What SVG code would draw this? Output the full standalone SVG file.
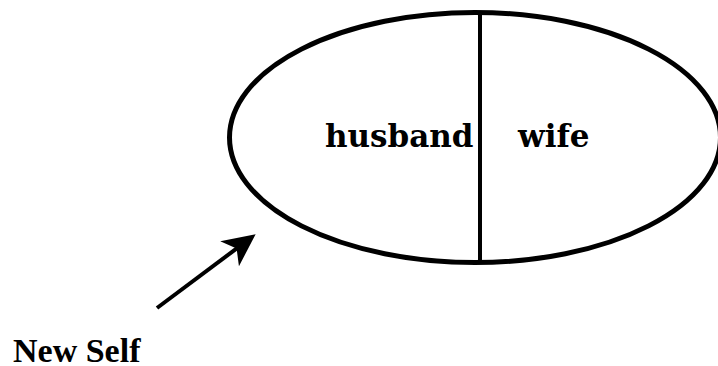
<svg xmlns="http://www.w3.org/2000/svg" width="718" height="366" viewBox="0 0 718 366">
  <style>
    .outline { fill: none; stroke: #000; stroke-width: 5; }
    .divider { stroke: #000; stroke-width: 4; }
    .part { font-family: "DejaVu Serif", "Liberation Serif", serif; font-weight: bold; font-size: 31px; fill: #000; }
    .caption { font-family: "Liberation Serif", "Times New Roman", serif; font-weight: bold; font-size: 34px; fill: #000; }
    .pointer { stroke: #000; stroke-width: 4; fill: none; }
  </style>
  <defs>
    <marker id="head" markerUnits="userSpaceOnUse" markerWidth="40" markerHeight="40" viewBox="-28 -16 32 32" refX="-17.8" refY="0" orient="auto">
      <path d="M0,0 L-26,-12.5 L-19,0 L-26,12.5 Z" fill="#000"/>
    </marker>
  </defs>
  <rect width="718" height="366" fill="#fff"/>

  <!-- the self: one oval split in two halves -->
  <g id="self">
    <ellipse class="outline" cx="475" cy="137.5" rx="245.5" ry="125"/>
    <line class="divider" x1="480" y1="13" x2="480" y2="262"/>
  </g>
  <g id="husband">
    <text class="part" x="325" y="147">husband</text>
  </g>
  <g id="wife">
    <text class="part" x="518" y="147">wife</text>
  </g>

  <g id="new-self">
    <text class="caption" x="13" y="362">New Self</text>
  </g>

  <!-- connectors -->
  <g id="connectors">
    <line class="pointer" x1="157" y1="308" x2="237.8" y2="247.6" marker-end="url(#head)"/>
  </g>
</svg>
